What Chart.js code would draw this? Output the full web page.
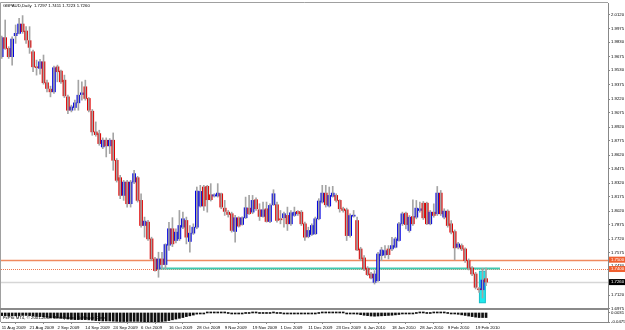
<!DOCTYPE html>
<html>
<head>
<meta charset="utf-8">
<script src="https://cdn.jsdelivr.net/npm/chart.js@4.4.0/dist/chart.umd.min.js"></script>
<style>
  html, body { margin: 0; padding: 0; background: #fff; }
  #wrap { width: 625px; height: 330px; }
</style>
</head>
<body>
<div id="wrap"><canvas id="chart" width="625" height="330"></canvas></div>
<script>
// GBPAUD daily candles, 11 Aug 2009 .. 24 Feb 2010
const symbol = 'GBPAUD,Daily';
const opens = [
  1.9673,1.9877,1.9762,1.9673,1.9898,1.9923,2.0023,1.9948,1.9845,1.9726,
  1.9565,1.9548,1.9619,1.9394,1.9326,1.9297,1.9565,1.9519,1.9422,1.9243,
  1.9100,1.9129,1.9179,1.9268,1.9351,1.9226,1.9090,1.8868,1.8850,1.8707,
  1.8779,1.8718,1.8779,1.8564,1.8378,1.8188,1.8331,1.8099,1.8331,1.8378,
  1.8135,1.7866,1.7902,1.7723,1.7508,1.7401,1.7508,1.7448,1.7655,1.7831,
  1.7705,1.7723,1.7848,1.7920,1.7695,1.7784,1.7848,1.8074,1.8278,1.8285,
  1.8195,1.8181,1.8181,1.8206,1.8052,1.8009,1.7992,1.7802,1.7949,1.7877,
  1.7949,1.8052,1.8009,1.8142,1.8034,1.7963,1.8045,1.7909,1.8088,1.8088,
  1.7938,1.7949,1.7974,1.7884,1.7974,1.8017,1.8009,1.7884,1.7748,1.7770,
  1.7777,1.7938,1.8117,1.8213,1.8074,1.8178,1.8188,1.8135,1.8045,1.8034,
  1.7758,1.7966,1.7919,1.7615,1.7519,1.7408,1.7347,1.7257,1.7275,1.7544,
  1.7551,1.7615,1.7615,1.7633,1.7705,1.7884,1.7998,1.7812,1.7962,1.7955,
  1.8027,1.8105,1.8105,1.7884,1.8009,1.7991,1.8213,1.7955,1.8020,1.7884,
  1.7801,1.7633,1.7651,1.7615,1.7490,1.7411,1.7347,1.7186,1.7178,1.7297
];
const highs = [
  1.9895,2.0066,1.9780,1.9887,2.0013,2.0084,2.0113,1.9995,1.9995,1.9744,
  1.9637,1.9644,1.9691,1.9422,1.9358,1.9573,1.9583,1.9530,1.9476,1.9261,
  1.9154,1.9208,1.9422,1.9404,1.9422,1.9236,1.9108,1.8975,1.8886,1.8804,
  1.8804,1.8797,1.8857,1.8582,1.8403,1.8349,1.8349,1.8349,1.8457,1.8392,
  1.8206,1.7956,1.7920,1.7741,1.7526,1.7580,1.7580,1.7670,1.7900,1.7950,
  1.7830,1.8027,1.8009,1.7956,1.7866,1.7884,1.8278,1.8296,1.8296,1.8296,
  1.8314,1.8206,1.8314,1.8213,1.8135,1.8027,1.8009,1.7974,1.7960,1.7960,
  1.8170,1.8188,1.8188,1.8163,1.8099,1.8117,1.8117,1.8099,1.8249,1.8117,
  1.8027,1.8009,1.8063,1.8027,1.8063,1.8027,1.8027,1.7902,1.7848,1.7884,
  1.7956,1.8153,1.8296,1.8296,1.8278,1.8285,1.8206,1.8142,1.8062,1.8052,
  1.7991,1.8027,1.7955,1.7633,1.7544,1.7426,1.7365,1.7383,1.7579,1.7633,
  1.7651,1.7651,1.7740,1.7740,1.7901,1.8009,1.8009,1.7973,1.8141,1.8134,
  1.8116,1.8123,1.8116,1.8027,1.8098,1.8284,1.8241,1.8045,1.8034,1.7919,
  1.7819,1.7687,1.7669,1.7626,1.7508,1.7426,1.7365,1.7204,1.7408,1.7411
];
const lows = [
  1.9655,1.9751,1.9655,1.9583,1.9816,1.9916,1.9923,1.9816,1.9709,1.9512,
  1.9476,1.9487,1.9379,1.9297,1.9243,1.9279,1.9404,1.9386,1.9236,1.9064,
  1.9082,1.9100,1.9100,1.9208,1.9208,1.9082,1.8832,1.8822,1.8725,1.8689,
  1.8600,1.8636,1.8457,1.8331,1.8153,1.8135,1.8063,1.8063,1.8313,1.8117,
  1.7848,1.7741,1.7705,1.7491,1.7376,1.7312,1.7401,1.7401,1.7598,1.7640,
  1.7680,1.7705,1.7831,1.7669,1.7580,1.7770,1.7831,1.8063,1.8027,1.8009,
  1.8128,1.8170,1.8170,1.8045,1.7974,1.7956,1.7795,1.7687,1.7848,1.7870,
  1.7940,1.7985,1.7992,1.8027,1.7920,1.7956,1.7902,1.7895,1.8081,1.7902,
  1.7884,1.7848,1.7813,1.7866,1.7963,1.7974,1.7866,1.7705,1.7734,1.7759,
  1.7770,1.7927,1.8106,1.8063,1.8063,1.8170,1.8117,1.8009,1.8009,1.7705,
  1.7740,1.7955,1.7597,1.7490,1.7383,1.7329,1.7293,1.7239,1.7268,1.7490,
  1.7519,1.7508,1.7597,1.7626,1.7697,1.7866,1.7830,1.7794,1.7866,1.7937,
  1.8009,1.7930,1.7876,1.7873,1.7955,1.7973,1.7973,1.7937,1.7848,1.7776,
  1.7497,1.7615,1.7597,1.7472,1.7390,1.7329,1.7186,1.7150,1.7090,1.7223
];
const closes = [
  1.9877,1.9762,1.9673,1.9862,1.9923,2.0023,1.9941,1.9852,1.9773,1.9565,
  1.9555,1.9619,1.9394,1.9333,1.9297,1.9555,1.9512,1.9404,1.9254,1.9100,
  1.9136,1.9179,1.9261,1.9286,1.9226,1.9100,1.8868,1.8839,1.8743,1.8779,
  1.8718,1.8779,1.8564,1.8349,1.8188,1.8331,1.8099,1.8331,1.8421,1.8135,
  1.7866,1.7913,1.7723,1.7508,1.7383,1.7508,1.7448,1.7662,1.7831,1.7669,
  1.7795,1.7866,1.7938,1.7741,1.7784,1.7848,1.8235,1.8231,1.8074,1.8142,
  1.8142,1.8195,1.8213,1.8063,1.8017,1.7984,1.7813,1.7949,1.7859,1.7949,
  1.8056,1.7992,1.8135,1.8045,1.7963,1.8034,1.7909,1.8081,1.8206,1.7920,
  1.7927,1.7992,1.7884,1.8002,1.8009,1.7992,1.7884,1.7741,1.7813,1.7866,
  1.7938,1.8128,1.8213,1.8088,1.8188,1.8213,1.8135,1.8045,1.8027,1.7758,
  1.7973,1.7977,1.7604,1.7508,1.7401,1.7340,1.7304,1.7347,1.7561,1.7604,
  1.7597,1.7554,1.7651,1.7723,1.7884,1.7991,1.7876,1.7955,1.7884,1.8052,
  1.8045,1.7948,1.7884,1.8009,1.7973,1.8213,1.7991,1.8020,1.7866,1.7794,
  1.7626,1.7669,1.7615,1.7490,1.7410,1.7347,1.7204,1.7178,1.7282,1.7260
];
// lower panel histogram
const macd = [
  -0.014,-0.015,-0.016,-0.016,-0.015,-0.014,-0.013,-0.013,-0.014,-0.016,
  -0.018,-0.019,-0.021,-0.023,-0.025,-0.025,-0.026,-0.027,-0.029,-0.032,
  -0.034,-0.035,-0.035,-0.035,-0.035,-0.036,-0.038,-0.040,-0.041,-0.042,
  -0.042,-0.042,-0.043,-0.044,-0.045,-0.045,-0.045,-0.044,-0.044,-0.044,
  -0.045,-0.046,-0.046,-0.047,-0.047,-0.046,-0.045,-0.043,-0.040,-0.036,
  -0.032,-0.028,-0.024,-0.019,-0.015,-0.011,-0.006,-0.003,-0.001,0.001,
  0.002,0.002,0.002,0.001,0.001,0.000,-0.001,-0.001,-0.001,-0.001,
  0.000,0.000,0.001,0.001,0.000,0.000,0.000,0.000,0.001,0.000,
  0.000,-0.001,-0.001,-0.001,-0.001,-0.001,-0.002,-0.002,-0.002,-0.002,
  -0.001,0.000,0.001,0.002,0.002,0.002,0.002,0.002,0.001,-0.001,
  -0.002,-0.003,-0.006,-0.009,-0.012,-0.014,-0.016,-0.017,-0.016,-0.015,
  -0.014,-0.013,-0.012,-0.010,-0.008,-0.005,-0.004,-0.003,-0.001,0.000,
  0.001,0.001,0.000,0.000,0.001,0.002,0.002,0.001,0.000,-0.001,
  -0.003,-0.007,-0.010,-0.013,-0.016,-0.019,-0.022,-0.024,-0.024,-0.024
];

const tickIndex = [0,8,16,24,32,40,48,56,64,72,80,88,96,104,112,120,128,136];
const tickLabels = ['11 Aug 2009','21 Aug 2009','2 Sep 2009','14 Sep 2009','24 Sep 2009',
  '6 Oct 2009','16 Oct 2009','28 Oct 2009','9 Nov 2009','19 Nov 2009','1 Dec 2009',
  '11 Dec 2009','23 Dec 2009','6 Jan 2010','18 Jan 2010','28 Jan 2010','9 Feb 2010','19 Feb 2010'];
const priceTicks = [2.0120,1.9975,1.9830,1.9675,1.9530,1.9375,1.9220,1.9075,1.8920,1.8775,
  1.8620,1.8475,1.8320,1.8175,1.8020,1.7875,1.7720,1.7575,1.7430,1.7275,1.7120,1.6975];
const macdTicks = [0.0031, -0.0475];

// drawn objects
const resistLevel = 1.7500;
const supportLevel = 1.7400;
const zoneLevel = 1.7407, zoneFrom = 44, zoneTo = 143;
const boxFrom = 137.1, boxTo = 138.8, boxTop = 1.7376, boxBottom = 1.7039;
const copyright = 'FxPro MT4, \u00a9 2001-2008 MetaQuotes Software Corp.';

const FONT = '4.3px "Liberation Sans", Arial, sans-serif';
const last = closes.length - 1;
const bid = closes[last];

const overlay = {
  id: 'overlay',
  beforeDatasetsDraw(chart) {
    const {ctx, chartArea, scales: {x, y}} = chart;
    const hline = (v, color, w, dash, x1, x2) => {
      const py = Math.round(y.getPixelForValue(v)) + 0.5;
      ctx.beginPath();
      ctx.setLineDash(dash);
      ctx.strokeStyle = color;
      ctx.lineWidth = w;
      ctx.moveTo(x1, py);
      ctx.lineTo(x2, py);
      ctx.stroke();
    };
    ctx.save();
    hline(bid, '#d6d6d6', 1.5, [], chartArea.left, chartArea.right);
    hline(supportLevel, '#f07850', 1, [1, 1], chartArea.left, chartArea.right);
    hline(resistLevel, '#f08a60', 1.5, [], chartArea.left, chartArea.right);
    hline(zoneLevel, '#40c8b0', 2, [], x.getPixelForValue(zoneFrom), x.getPixelForValue(zoneTo));
    // cyan box
    ctx.setLineDash([]);
    const bx1 = x.getPixelForValue(boxFrom), bx2 = x.getPixelForValue(boxTo);
    const by1 = y.getPixelForValue(boxTop), by2 = y.getPixelForValue(boxBottom);
    ctx.fillStyle = '#20e8ec';
    ctx.fillRect(bx1, by1, bx2 - bx1, by2 - by1);
    ctx.strokeStyle = '#10c0c8';
    ctx.lineWidth = 1;
    ctx.strokeRect(bx1, by1, bx2 - bx1, by2 - by1);
    ctx.restore();
  },
  afterDraw(chart) {
    const {ctx, chartArea, scales: {y}} = chart;
    ctx.save();
    // frame
    ctx.strokeStyle = '#a0a0a0';
    ctx.lineWidth = 1;
    ctx.beginPath();
    ctx.moveTo(chartArea.left - 0.5, chartArea.bottom);
    ctx.lineTo(chartArea.left - 0.5, chartArea.top - 0.5);
    ctx.lineTo(chartArea.right, chartArea.top - 0.5);
    ctx.stroke();
    // panel separator
    ctx.fillStyle = '#8a8a8a';
    ctx.fillRect(0, y.bottom - 1, chartArea.right, 2);
    // texts
    ctx.font = FONT;
    ctx.textBaseline = 'middle';
    ctx.fillStyle = '#000';
    const f = v => v.toFixed(4);
    ctx.fillText(`${symbol}  ${f(opens[last])} ${f(highs[last])} ${f(lows[last])} ${f(closes[last])}`, 3, 6);
    ctx.fillText(copyright, 3, 318);
    // price tags on the axis
    const tag = (v, bg) => {
      const py = y.getPixelForValue(v);
      ctx.fillStyle = bg;
      ctx.fillRect(y.left + 1, py - 3, 17, 6);
      ctx.fillStyle = '#fff';
      ctx.fillText(f(v), y.left + 3, py);
    };
    tag(resistLevel, '#f06030');
    tag(supportLevel, '#f06030');
    tag(bid, '#000');
    ctx.restore();
  }
};

const fixY = w => s => { s.width = w; s.paddingTop = 0; s.paddingBottom = 0; };

new Chart(document.getElementById('chart'), {
  type: 'bar',
  data: {
    datasets: [
      {
        label: 'wick',
        data: highs.map((h, i) => ({x: i, y: [lows[i], h]})),
        backgroundColor: '#a4a4a4',
        barThickness: 1,
        yAxisID: 'y'
      },
      {
        label: 'body',
        data: opens.map((o, i) => ({x: i, y: [o, closes[i]]})),
        backgroundColor: c => closes[c.dataIndex] >= opens[c.dataIndex] ? '#0000e0' : '#e00000',
        barThickness: 3,
        minBarLength: 1,
        yAxisID: 'y'
      },
      {
        label: 'MACD',
        data: macd.map((v, i) => ({x: i, y: v})),
        backgroundColor: '#111',
        barThickness: 2,
        minBarLength: 1,
        yAxisID: 'y2'
      }
    ]
  },
  options: {
    responsive: false,
    animation: false,
    devicePixelRatio: 1,
    datasets: { bar: { grouped: false } },
    layout: { padding: { left: 1, top: 3, right: 0, bottom: 0 } },
    plugins: { legend: { display: false }, tooltip: { enabled: false } },
    scales: {
      x: {
        type: 'linear',
        min: -0.2,
        max: 174,
        offset: false,
        grid: { drawOnChartArea: false, tickLength: 2, color: '#888' },
        border: { color: '#888' },
        afterBuildTicks: s => { s.ticks = tickIndex.map(v => ({value: v})); },
        afterFit: s => { s.height = 8; s.paddingLeft = 0; s.paddingRight = 0; },
        ticks: {
          autoSkip: false, maxRotation: 0, align: 'start', padding: 1,
          font: { family: 'Liberation Sans', size: 4.3 }, color: '#000',
          callback: v => tickLabels[tickIndex.indexOf(v)]
        }
      },
      y: {
        type: 'linear',
        position: 'right',
        stack: 'panes',
        stackWeight: 306,
        min: 1.6972,
        max: 2.0248,
        grid: { drawOnChartArea: false, tickLength: 2, color: '#888' },
        border: { color: '#888' },
        afterBuildTicks: s => { s.ticks = priceTicks.map(v => ({value: v})); },
        afterFit: fixY(17),
        ticks: {
          autoSkip: false, padding: 1, font: { family: 'Liberation Sans', size: 4.3 }, color: '#000',
          callback: v => v.toFixed(4)
        }
      },
      y2: {
        type: 'linear',
        position: 'right',
        stack: 'panes',
        stackWeight: 13,
        min: -0.0475,
        max: 0.0209,
        grid: { drawOnChartArea: false, tickLength: 2, color: '#888' },
        border: { color: '#888' },
        afterBuildTicks: s => { s.ticks = macdTicks.map(v => ({value: v})); },
        afterFit: fixY(17),
        ticks: {
          autoSkip: false, padding: 1, font: { family: 'Liberation Sans', size: 4.3 }, color: '#000',
          callback: v => v.toFixed(4)
        }
      }
    }
  },
  plugins: [overlay]
});
</script>
</body>
</html>
